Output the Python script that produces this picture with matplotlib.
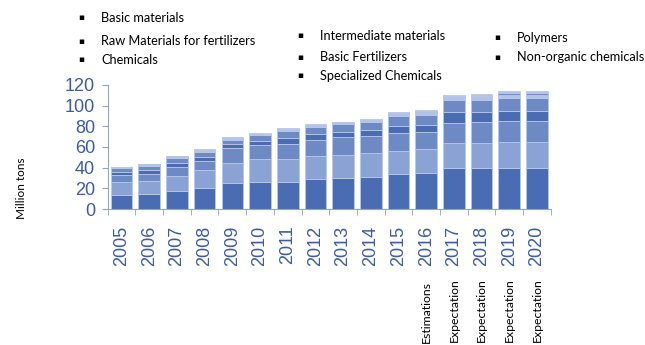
import matplotlib
matplotlib.use("Agg")
import matplotlib.pyplot as plt
import matplotlib.transforms as mtransforms
import numpy as np

years = ["2005", "2006", "2007", "2008", "2009", "2010", "2011", "2012",
         "2013", "2014", "2015", "2016", "2017", "2018", "2019", "2020"]
notes = {"2016": "Estimations", "2017": "Expectation", "2018": "Expectation",
         "2019": "Expectation", "2020": "Expectation"}

series_names = ["Basic materials", "Raw Materials for fertilizers", "Chemicals",
                "Intermediate materials", "Basic Fertilizers", "Specialized Chemicals",
                "Polymers", "Non-organic chemicals"]

basic_materials = [14, 14.5, 17.7, 20, 24.8, 26.4, 26.4, 29, 30.3, 31, 33.6, 34.5, 39.4, 39.4, 39.5, 39.5]
raw_fertilizers = [12.5, 12.9, 14.3, 17.7, 20, 22, 22, 22.3, 22, 23, 22.9, 23.5, 24.6, 24.6, 25.5, 25.5]
chemicals = [6, 6.2, 8.3, 9.1, 13.9, 13.6, 14.6, 15.5, 17.1, 17, 16.8, 16.8, 19.6, 20, 20.5, 20.5]
intermediate = [3.5, 3.9, 4.5, 3.8, 4.3, 3.8, 5.4, 5.5, 4.8, 5.5, 7, 6.5, 9.9, 9.5, 9.5, 9.5]
basic_fertilizers = [4, 4.1, 4.2, 4.9, 3.8, 5.8, 7.4, 7.4, 7.8, 8, 9.7, 9.7, 11.5, 11.5, 12, 12]
specialized = [0.6, 1.2, 1.3, 1.3, 1.5, 1.0, 1.2, 1.4, 1.4, 1.4, 2.0, 2.6, 2.8, 3.0, 3.0, 3.0]
polymers = [0.2, 0.4, 0.5, 0.5, 0.6, 0.4, 0.5, 0.6, 0.6, 0.6, 0.8, 1.2, 1.2, 1.5, 2.0, 2.0]
non_organic = [0.2, 0.4, 0.5, 0.5, 0.5, 0.3, 0.5, 0.6, 0.5, 0.5, 0.8, 1.2, 1.0, 2.0, 2.0, 2.0]

layers = [basic_materials, raw_fertilizers, chemicals, intermediate,
          basic_fertilizers, specialized, polymers, non_organic]
colors = ["#4a6cb3", "#8ba3d4", "#6e8ac5", "#4a6cb3", "#6e8ac5", "#b3c3e6", "#6e8ac5", "#b3c3e6"]

blue = "#3b5ba9"

fig = plt.figure(figsize=(6.45, 3.45), dpi=100)
ax = fig.add_axes([0.167, 0.394, 0.687, 0.36])

x = np.arange(len(years))
bottom = np.zeros(len(years))
for vals, c in zip(layers, colors):
    ax.bar(x, vals, bottom=bottom, width=0.78, color=c, edgecolor="#b8c7e8", linewidth=0.6)
    bottom += np.array(vals)

ax.set_xlim(-0.5, len(years) - 0.5)
ax.set_ylim(0, 120)
ax.set_yticks(range(0, 121, 20))
ax.set_xticks(x)
ax.set_xticklabels(years, rotation=90, fontsize=13, color=blue, family="Liberation Sans")
ax.set_xticks(np.arange(-0.5, len(years), 1), minor=True)
ax.tick_params(axis="x", which="major", length=0, pad=12)
ax.tick_params(axis="x", which="minor", length=4, color="#8ea4d2")
ax.tick_params(axis="y", length=4, color="#8ea4d2", labelsize=13, labelcolor=blue, pad=5)
for lab in ax.get_yticklabels():
    lab.set_family("Liberation Sans")

for side in ["top", "right"]:
    ax.spines[side].set_visible(False)
for side in ["left", "bottom"]:
    ax.spines[side].set_color("#8ea4d2")

fig.text(0.034, 0.455, "Million tons", rotation=90, fontsize=8.5, family="Lato",
         ha="center", va="center")

# notes under the year labels
trans = mtransforms.blended_transform_factory(ax.transData, fig.transFigure)
for i, y in enumerate(years):
    if y in notes:
        if notes[y] == "Estimations":
            ax.text(i, 1 - 343 / 345, notes[y], rotation=90, fontsize=8.8, family="Lato",
                    ha="center", va="bottom", transform=trans, clip_on=False)
        else:
            ax.text(i, 1 - 278 / 345, notes[y], rotation=90, fontsize=8.8, family="Lato",
                    ha="center", va="top", transform=trans, clip_on=False)

# bullet legend in three columns
legend_pos = [(78, 18), (78, 41), (78, 60), (297, 36), (297, 57), (297, 76), (494, 38), (494, 57)]
for name, (px, py) in zip(series_names, legend_pos):
    fig.text(px / 645, 1 - py / 345, "\u25aa", fontsize=6.5, ha="left", va="center")
    fig.text((px + 23) / 645, 1 - py / 345, name, fontsize=9.2, family="Lato",
             ha="left", va="center")

fig.savefig("out.png", dpi=100)
